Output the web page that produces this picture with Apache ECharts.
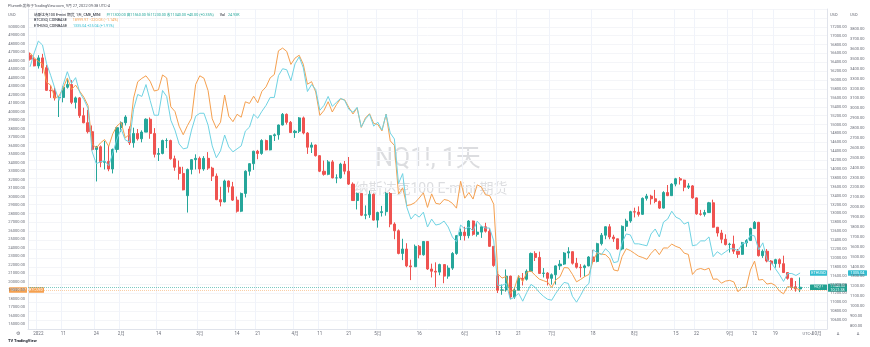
<!DOCTYPE html>
<html><head><meta charset="utf-8">
<script src="https://cdn.jsdelivr.net/npm/echarts/dist/echarts.min.js"></script>
<style>html,body{margin:0;padding:0;background:#fff}#c{width:870px;height:347px}</style>
</head><body><div id="c"></div>
<script>
// ---- categories (trading days) ----
const tradingDays = {
  '2021-12': [30,31],
  '2022-01': [3,4,5,6,7,10,11,12,13,14,18,19,20,21,24,25,26,27,28,31],
  '2022-02': [1,2,3,4,7,8,9,10,11,14,15,16,17,18,22,23,24,25,28],
  '2022-03': [1,2,3,4,7,8,9,10,11,14,15,16,17,18,21,22,23,24,25,28,29,30,31],
  '2022-04': [1,4,5,6,7,8,11,12,13,14,18,19,20,21,22,25,26,27,28,29],
  '2022-05': [2,3,4,5,6,9,10,11,12,13,16,17,18,19,20,23,24,25,26,27,31],
  '2022-06': [1,2,3,6,7,8,9,10,13,14,15,16,17,21,22,23,24,27,28,29,30],
  '2022-07': [1,5,6,7,8,11,12,13,14,15,18,19,20,21,22,25,26,27,28,29],
  '2022-08': [1,2,3,4,5,8,9,10,11,12,15,16,17,18,19,22,23,24,25,26,29,30,31],
  '2022-09': [1,2,6,7,8,9,12,13,14,15,16,19,20,21,22,23,26,27]
};
const futureDays = ['2022-09-28','2022-09-29','2022-09-30','2022-10-03','2022-10-04','2022-10-05'];

// x tick labels
const tickLabels = {
  '2022-01-03':'2022','2022-01-11':'11','2022-01-24':'24','2022-02-01':'2月','2022-02-14':'14',
  '2022-03-01':'3月','2022-03-14':'14','2022-03-21':'21','2022-04-01':'4月','2022-04-11':'11',
  '2022-04-21':'21','2022-05-02':'5月','2022-05-16':'16','2022-06-01':'6月','2022-06-13':'13',
  '2022-06-21':'21','2022-07-01':'7月','2022-07-18':'18','2022-08-01':'8月','2022-08-15':'15',
  '2022-08-22':'22','2022-09-01':'9月','2022-09-12':'12','2022-09-19':'19','2022-10-03':'10月'
};

// ---- NQ1! daily [open, close, low, high] ----
const nqDec = [[16560,16470,16440,16620],[16470,16320,16310,16530]];
const nqJan = [[16320,16500,16260,16560],[16500,16280,16150,16590],[16280,15770,15760,16340],[15770,15760,15600,15880],[15760,15600,15540,15830],[15600,15610,15170,15640],[15610,15840,15500,15860],[15840,15900,15810,16020],[15900,15500,15460,16000],[15500,15600,15360,15630],[15600,15200,15150,15620],[15200,15040,15030,15380],[15040,14840,14800,15330],[14840,14440,14420,14980],[14440,14500,13720,14520],[14500,14150,14040,14530],[14150,14170,13990,14630],[14170,14000,13950,14520],[14000,14440,13900,14460],[14440,14930,14370,14940]];
const nqFeb = [[14930,15040,14830,15070],[15040,15170,14980,15210],[14900,14590,14540,14960],[14590,14800,14480,14930],[14800,14680,14640,14900],[14680,14830,14600,14870],[14830,15120,14830,15140],[15120,14800,14680,15160],[14800,14330,14260,14920],[14330,14350,14180,14470],[14350,14640,14330,14660],[14640,14640,14470,14690],[14640,14230,14210,14660],[14230,14040,13960,14300],[14040,13900,13760,14190],[13900,13530,13520,14050],[13400,13990,13020,14010],[13990,14210,13880,14220],[14210,14240,13990,14330]];
const nqMar = [[14240,14000,13900,14280],[14000,14240,13960,14290],[14240,14020,13980,14380],[14020,13840,13730,14050],[13840,13310,13300,13900],[13310,13260,13160,13600],[13260,13730,13250,13760],[13730,13600,13470,13740],[13600,13300,13280,13710],[13300,13050,13020,13380],[13050,13450,13030,13470],[13450,13950,13360,13970],[13950,14120,13850,14130],[14120,14400,13980,14410],[14400,14350,14220,14430],[14350,14640,14320,14670],[14640,14430,14420,14660],[14430,14750,14420,14760],[14750,14770,14630,14800],[14770,14990,14660,15000],[14990,15230,14980,15260],[15230,15050,15000,15250],[15050,14820,14810,15080]];
const nqApr = [[14820,14850,14700,14880],[14850,15150,14810,15170],[15150,14810,14780,15180],[14810,14490,14340,14830],[14490,14540,14360,14600],[14540,14300,14280,14550],[14300,13950,13930,14310],[13950,13880,13850,14190],[13880,14160,13860,14200],[14160,13800,13790,14200],[13800,13800,13680,13880],[13800,14110,13780,14140],[14110,13950,13880,14180],[13950,13660,13640,14270],[13660,13290,13280,13700],[13290,13450,13090,13470],[13450,12960,12940,13450],[12960,12970,12870,13180],[12970,13430,12900,13510],[13430,12850,12840,13450]];
const nqMay = [[12850,13020,12680,13040],[13020,13040,12930,13170],[13040,13450,12950,13480],[13450,12760,12690,13480],[12760,12610,12420,12800],[12610,12100,12080,12640],[12100,12200,11950,12430],[12200,11820,11790,12330],[11820,11800,11500,11960],[11800,12260,11800,12300],[12260,12070,11990,12290],[12070,12370,12050,12380],[12370,11750,11730,12380],[11750,11700,11560,11870],[11700,11680,11340,11900],[11680,11850,11610,11870],[11850,11590,11430,11850],[11590,11770,11530,11830],[11770,12100,11730,12130],[12100,12500,12070,12510],[12500,12580,12400,12660]];
const nqJun = [[12580,12500,12390,12700],[12500,12830,12440,12850],[12830,12530,12500,12840],[12530,12580,12480,12790],[12580,12700,12450,12720],[12700,12600,12570,12790],[12600,12260,12250,12670],[12260,11830,11800,12260],[11600,11270,11210,11700],[11270,11280,11170,11400],[11280,11590,11240,11740],[11590,11120,11070,11600],[11120,11270,11080,11330],[11270,11540,11260,11610],[11540,11520,11380,11660],[11520,11700,11490,11740],[11700,12100,11690,12120],[12100,12010,11930,12150],[12010,11650,11640,12140],[11650,11660,11560,11770],[11660,11540,11380,11680]];
const nqJul = [[11540,11620,11400,11650],[11620,11820,11400,11830],[11820,11860,11730,11950],[11860,12110,11840,12130],[12110,12140,11990,12240],[12140,11880,11850,12140],[11880,11790,11760,12000],[11790,11780,11560,11860],[11780,11820,11580,11850],[11820,12020,11810,12040],[12020,11920,11890,12180],[11920,12320,11900,12340],[12320,12510,12280,12560],[12510,12700,12420,12710],[12700,12470,12420,12760],[12470,12430,12360,12520],[12430,12200,12180,12430],[12200,12710,12170,12730],[12710,12830,12600,12880],[12830,13040,12790,13060]];
const nqAug = [[13040,13030,12910,13130],[13030,12980,12930,13160],[12980,13340,12970,13360],[13340,13390,13290,13440],[13390,13330,13200,13420],[13330,13270,13230,13530],[13270,13120,13100,13290],[13120,13470,13110,13500],[13470,13400,13390,13640],[13400,13660,13400,13680],[13660,13780,13610,13800],[13780,13750,13650,13820],[13750,13590,13500,13760],[13590,13620,13550,13680],[13620,13350,13330,13640],[13350,12990,12970,13360],[12990,12980,12950,13080],[12980,13020,12930,13080],[13020,13240,13010,13260],[13240,12690,12680,13310],[12690,12560,12480,12690],[12560,12420,12330,12630],[12420,12300,12280,12530]];
const nqSep = [[12300,12310,12120,12340],[12310,12150,12090,12500],[12150,12080,12000,12200],[12080,12340,12070,12360],[12340,12390,12250,12420],[12390,12660,12380,12680],[12660,12800,12650,12830],[12800,12050,12030,12810],[12050,12150,12000,12190],[12150,11930,11900,12200],[11930,11870,11720,11950],[11870,11960,11780,11980],[11960,11870,11780,11990],[11870,11670,11660,12050],[11670,11540,11510,11680],[11540,11350,11280,11550],[11350,11300,11240,11480],[11300,11340,11230,11560]];

// ---- BTCUSD daily close ----
const btcDec = [46900,46300];
const btcJan = [45900,45600,43450,43080,41560,41840,42740,43950,42590,43100,42380,41680,40700,36200,35700,36300,36700,35900,37400,38300];
const btcFeb = [38710,36900,37310,41570,43500,43900,44200,43560,42410,42550,44300,43950,40560,40000,38270,37270,38330,39210,43190];
const btcMar = [44200,43920,42450,39140,38020,38740,41940,39440,38800,39670,39330,41140,40950,41800,41020,42370,42900,43960,44350,47140,47460,47070,45540];
const btcApr = [46280,46620,45560,43210,43510,42290,39540,40130,41150,39940,40800,41500,41370,40480,39710,40430,38120,39240,39740,38600];
const btcMay = [38470,37720,39690,36550,36010,30300,31020,28940,29040,29290,29830,30430,28720,30310,29200,29100,29650,29540,29200,28630,31790];
const btcJun = [29800,30470,29700,31370,31130,30200,30110,29090,20900,20400,20600,18600,19200,20720,19970,21090,21230,20730,20280,20100,19930];
const btcJul = [19300,20190,20550,21640,21600,20850,19960,20250,20590,20830,22430,23400,23230,23160,22690,21360,21240,22930,23850,23640];
const btcAug = [23310,22980,22820,22610,23310,23810,23160,23950,23940,24400,24130,23950,23340,23190,20830,21400,21530,21370,21570,20260,20300,19800,20050];
const btcSep = [20130,19950,18790,19290,19320,21360,22400,20170,20240,19700,19800,19540,18880,18550,19410,19300,19220,18999.97];

// ---- ETHUSD daily close ----
const ethDec = [3420,3560];
const ethJan = [3680,3640,3450,3330,3200,3080,3240,3370,3250,3310,3160,3090,3000,2560,2440,2460,2470,2420,2550,2690];
const ethFeb = [2790,2680,2660,2990,3140,3120,3240,3080,2930,2930,3180,3120,2880,2780,2640,2590,2600,2780,2920];
const ethMar = [2950,2950,2830,2620,2500,2570,2730,2610,2560,2590,2620,2770,2810,2940,2900,2970,3030,3110,3110,3330,3400,3390,3280];
const ethApr = [3450,3520,3410,3170,3240,3190,2980,3030,3120,3020,3060,3100,3080,2990,2960,3010,2810,2890,2940,2820];
const ethMay = [2860,2780,2940,2750,2690,2240,2340,2000,1880,1930,1900,1950,1800,1880,1820,1830,1860,1800,1700,1650,1820];
const ethJun = [1780,1800,1760,1860,1810,1790,1790,1660,1210,1210,1230,1070,1090,1130,1050,1140,1220,1190,1140,1100,1070];
const ethJul = [1060,1130,1190,1240,1230,1100,1040,1110,1190,1230,1570,1540,1520,1580,1540,1440,1450,1640,1730,1720];
const ethAug = [1630,1630,1620,1610,1730,1780,1700,1850,1880,1960,1900,1880,1830,1850,1610,1620,1660,1660,1700,1500,1550,1520,1550];
const ethSep = [1580,1580,1560,1630,1640,1720,1710,1570,1640,1470,1440,1380,1320,1250,1330,1330,1310,1335.04];

// ---- build ----
const categories = [];
Object.keys(tradingDays).forEach(m => tradingDays[m].forEach(d => categories.push(m + '-' + String(d).padStart(2,'0'))));
futureDays.forEach(d => categories.push(d));

const nq = [].concat(nqDec,nqJan,nqFeb,nqMar,nqApr,nqMay,nqJun,nqJul,nqAug,nqSep);
const btc = [].concat(btcDec,btcJan,btcFeb,btcMar,btcApr,btcMay,btcJun,btcJul,btcAug,btcSep);
const eth = [].concat(ethDec,ethJan,ethFeb,ethMar,ethApr,ethMay,ethJun,ethJul,ethAug,ethSep);

const UP = '#26a69a', DOWN = '#ef5350', ORANGE = '#f5a04f', CYAN = '#6fd3e3';
const FONT = 'Roboto, "Noto Sans CJK SC", sans-serif';
const LBL = '#6a6d78';

const lastNQ = nq[nq.length-1], prevNQ = nq[nq.length-2];
const lastBTC = btc[btc.length-1], prevBTC = btc[btc.length-2];
const lastETH = eth[eth.length-1], prevETH = eth[eth.length-2];
const chg = (a,b,d) => { const c = a-b; const s = c>=0?'+':'−'; return s+Math.abs(c).toFixed(d)+' ('+s+Math.abs(c/b*100).toFixed(2)+'%)'; };

function fmtStep(step, maxShow) {
  return v => (Math.abs(v/step - Math.round(v/step)) < 1e-6 && v <= maxShow) ? v.toFixed(2) : '';
}

const chart = echarts.init(document.getElementById('c'));
const option = {
  animation: false,
  backgroundColor: '#ffffff',
  textStyle: { fontFamily: FONT },
  grid: { left: 28, right: 43, top: 9, bottom: 18 },
  xAxis: {
    type: 'category', data: categories, boundaryGap: true,
    axisLine: { show: true, lineStyle: { color: '#e0e3eb' } },
    axisTick: { show: false },
    axisLabel: { interval: 0, fontSize: 4.5, color: LBL, margin: 3, fontFamily: FONT,
      formatter: v => tickLabels[v] || '' },
    splitLine: { show: true, interval: (i, v) => !!tickLabels[v], lineStyle: { color: '#f0f3fa', width: 1 } }
  },
  yAxis: [
    { type: 'value', position: 'right', min: 10400, max: 17600, minInterval: 200, maxInterval: 200,
      axisLine: { show: true, lineStyle: { color: '#e0e3eb' } }, axisTick: { show: false },
      axisLabel: { fontSize: 4, color: LBL, margin: 3, showMinLabel: false, formatter: fmtStep(200, 17200) },
      splitLine: { show: true, lineStyle: { color: '#f4f5f8', width: 1 } } },
    { type: 'value', position: 'right', offset: 20, min: 769, max: 4004, minInterval: 100, maxInterval: 100,
      axisLine: { show: false }, axisTick: { show: false },
      axisLabel: { fontSize: 4, color: LBL, margin: 3, showMinLabel: false, formatter: fmtStep(100, 3800) },
      splitLine: { show: false } },
    { type: 'value', position: 'left', min: 14412, max: 52059, minInterval: 1000, maxInterval: 1000,
      axisLine: { show: true, lineStyle: { color: '#e0e3eb' } }, axisTick: { show: false },
      axisLabel: { fontSize: 4, color: LBL, margin: 3, formatter: fmtStep(1000, 50000) },
      splitLine: { show: false } }
  ],
  series: [
    { name: 'NQ1!', type: 'candlestick', yAxisIndex: 0, data: nq, barWidth: '62%',
      itemStyle: { color: UP, color0: DOWN, borderColor: UP, borderColor0: DOWN, borderWidth: 1 },
      markLine: { silent: true, symbol: 'none', label: { show: false },
        lineStyle: { color: UP, type: 'dotted', width: 1, opacity: 0.6 }, data: [{ yAxis: lastNQ[1] }] } },
    { name: 'BTCUSD', type: 'line', yAxisIndex: 2, data: btc, showSymbol: false, smooth: false,
      lineStyle: { color: ORANGE, width: 1 }, itemStyle: { color: ORANGE },
      markLine: { silent: true, symbol: 'none', label: { show: false },
        lineStyle: { color: ORANGE, type: 'dotted', width: 1, opacity: 0.5 }, data: [{ yAxis: lastBTC }] } },
    { name: 'ETHUSD', type: 'line', yAxisIndex: 1, data: eth, showSymbol: false, smooth: false,
      lineStyle: { color: CYAN, width: 1 }, itemStyle: { color: CYAN } }
  ]
};
chart.setOption(option);

// --- overlay texts and price labels (positions from the axes) ---
const yNQ = chart.convertToPixel({ yAxisIndex: 0 }, lastNQ[1]);
const yETH = chart.convertToPixel({ yAxisIndex: 1 }, lastETH);
const yBTC = chart.convertToPixel({ yAxisIndex: 2 }, lastBTC);

function box(x, y, w, h, fill, text, fs) {
  return { type: 'group', x: x, y: y, children: [
    { type: 'rect', shape: { x: 0, y: 0, width: w, height: h, r: 0.5 }, style: { fill: fill } },
    { type: 'text', x: w/2, y: h/2, style: { text: text, fill: '#fff', fontSize: fs || 3.8, fontFamily: FONT, align: 'center', verticalAlign: 'middle', lineHeight: 4 } }
  ]};
}
const t = (x, y, txt, fs, color, extra) => ({ type: 'text', x: x, y: y, style: Object.assign({ text: txt, fontSize: fs, fill: color, fontFamily: FONT, verticalAlign: 'middle' }, extra || {}) });

const nqVals = '开' + lastNQ[0].toFixed(2) + ' 高' + lastNQ[3].toFixed(2) + ' 低' + lastNQ[2].toFixed(2) + ' 收' + lastNQ[1].toFixed(2) + ' ' + chg(lastNQ[1], prevNQ[1], 2);

chart.setOption({ graphic: [
  t(8, 6, 'Plumeth发布于TradingView.com, 9月 27, 2022 09:38 UTC-4', 3.9, '#50535e'),
  t(8, 15, 'USD', 4, LBL),
  t(830, 15, 'USD', 4, LBL),
  t(850, 15, 'USD', 4, LBL),
  { type: 'text', x: 34, y: 15, style: { fontFamily: FONT, verticalAlign: 'middle',
    text: '{a|纳斯达克100 E-mini 期货, 1天, CME_MINI}  {g|' + nqVals + '}  {a|Vol} {g|24.93K}',
    rich: { a: { fontSize: 3.7, fill: '#131722', fontFamily: FONT }, g: { fontSize: 3.7, fill: UP, fontFamily: FONT } } } },
  { type: 'text', x: 34, y: 20.5, style: { fontFamily: FONT, verticalAlign: 'middle',
    text: '{a|BTCUSD, COINBASE}  {o|' + lastBTC.toFixed(2) + ' ' + chg(lastBTC, prevBTC, 2) + '}',
    rich: { a: { fontSize: 3.7, fill: '#131722', fontFamily: FONT }, o: { fontSize: 3.7, fill: ORANGE, fontFamily: FONT } } } },
  { type: 'text', x: 34, y: 26, style: { fontFamily: FONT, verticalAlign: 'middle',
    text: '{a|ETHUSD, COINBASE}  {c|' + lastETH.toFixed(2) + ' ' + chg(lastETH, prevETH, 2) + '}',
    rich: { a: { fontSize: 3.7, fill: '#131722', fontFamily: FONT }, c: { fontSize: 3.7, fill: '#33bdd0', fontFamily: FONT } } } },
  // watermark
  { type: 'text', x: 428, y: 160, z: -1, style: { text: 'NQ1!, 1天', fontSize: 25, fill: 'rgba(120,123,134,0.26)', fontFamily: FONT, align: 'center', verticalAlign: 'middle' } },
  { type: 'text', x: 431, y: 189, z: -1, style: { text: '纳斯达克100 E-mini 期货', fontSize: 14, fill: 'rgba(120,123,134,0.26)', fontFamily: FONT, align: 'center', verticalAlign: 'middle' } },
  // price labels
  box(9, yBTC - 2.8, 18, 5.6, ORANGE, lastBTC.toFixed(2)),
  box(28, yBTC - 2.8, 16, 5.6, ORANGE, 'BTCUSD'),
  box(810, yETH - 2.8, 17, 5.6, '#33bdd0', 'ETHUSD'),
  box(848, yETH - 2.8, 19, 5.6, '#33bdd0', lastETH.toFixed(2)),
  box(810, yNQ - 2.8, 17, 5.6, '#22a192', 'NQ1!'),
  box(828, yNQ - 3.5, 19, 8, '#22a192', lastNQ[1].toFixed(2) + '\n10:21:38', 3.6),
  // footer
  t(8, 341, 'TV TradingView', 4, '#131722', { fontWeight: 'bold' }),
  t(18, 334, '⚙', 4.5, LBL, { align: 'center' }),
  t(838, 334, 'A', 4, LBL, { align: 'center' }),
  t(858, 334, 'A', 4, LBL, { align: 'center' }),
  t(808, 334, 'UTC-4', 4, LBL, { align: 'center' })
]});
</script>
</body></html>
